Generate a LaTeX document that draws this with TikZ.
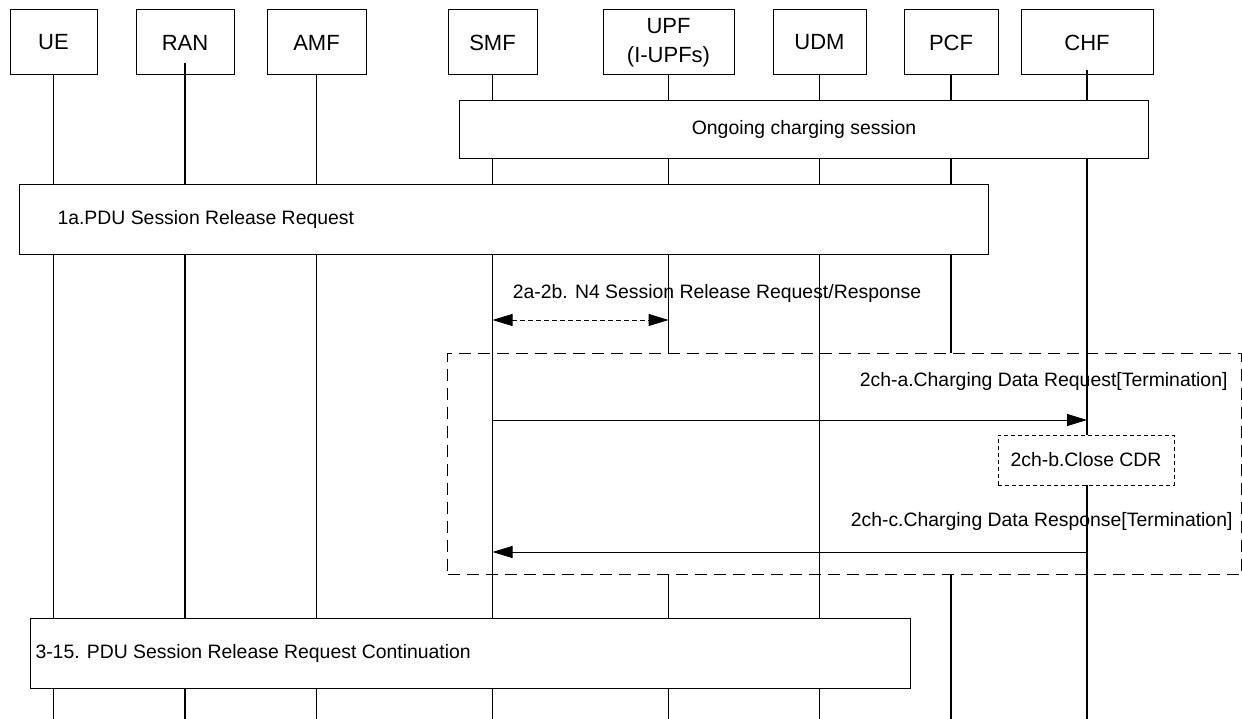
\documentclass[tikz,border=0pt]{standalone}
\usepackage{fontspec}
\setmainfont{Liberation Sans}
\usetikzlibrary{arrows.meta}
\begin{document}
\begin{tikzpicture}[x=1pt,y=-1pt,line width=1pt,
  hdr/.style={draw,fill=white,minimum height=65pt,inner sep=0pt,align=center,font=\fontsize{22}{29}\selectfont},
  lbl/.style={inner sep=0pt,font=\fontsize{19.4}{23}\selectfont},
  actbox/.style={draw,fill=white,anchor=north west,inner sep=0pt},
  life/.style={line width=1.2pt},
  msg/.style={-{Triangle[length=20pt,width=12pt]}},
  dmsg/.style={{Triangle[length=20pt,width=12pt]}-{Triangle[length=20pt,width=12pt]},dash pattern=on 5pt off 3pt},
  bigdash/.style={draw,dash pattern=on 12pt off 7pt,anchor=north west,inner sep=0pt},
  smalldash/.style={draw,fill=white,dash pattern=on 4pt off 3pt,inner sep=0pt}]
\useasboundingbox (0,0) rectangle (1242,719);
\coordinate (bottom) at (0,719);
% headers
\node[hdr,minimum width=87pt]  (ue)  at (53.5,42.5) {UE};
\node[hdr,minimum width=98pt]  (ran) at (185,42.5) {RAN};
\node[hdr,minimum width=99pt]  (amf) at (316.5,42.5) {AMF};
\node[hdr,minimum width=89pt]  (smf) at (492.5,42.5) {SMF};
\node[hdr,minimum width=131pt] (upf) at (668.5,42.5) {UPF\\(I-UPFs)};
\node[hdr,minimum width=93pt]  (udm) at (819.5,42.5) {UDM};
\node[hdr,minimum width=94pt]  (pcf) at (951,42.5) {PCF};
\node[hdr,minimum width=132pt] (chf) at (1087,42.5) {CHF};
% dashed frame (not filled)
\node[bigdash,minimum width=794pt,minimum height=221pt] (dbox) at (447,353) {};
% lifelines
\draw[life] (ue.south) -- (ue.south |- bottom);
\draw[life] ([yshift=12pt]ran.south) -- (ran.south |- bottom);
\draw[life] (amf.south) -- (amf.south |- bottom);
\draw[life] (smf.south) -- (smf.south |- bottom);
\draw[life] (upf.south) -- (upf.south |- dbox.north);
\draw[life] (upf.south |- dbox.south) -- (upf.south |- bottom);
\draw[life] (udm.south) -- (udm.south |- bottom);
\draw[life] (pcf.south) -- (pcf.south |- dbox.north);
\draw[life] (pcf.south |- dbox.south) -- (pcf.south |- bottom);
\draw[life] ([yshift=5pt]chf.south) -- (chf.south |- bottom);
% activity boxes
\node[actbox,minimum width=689pt,minimum height=58pt] (ong) at (459,100) {};
\node[lbl] (tong) at (ong.center) {Ongoing charging session};
\node[actbox,minimum width=969pt,minimum height=70pt] (b1a) at (19,184) {};
\node[lbl,anchor=west] (t1a) at (57,219) {1a.PDU Session Release Request};
\node[actbox,minimum width=880pt,minimum height=70pt] (b315) at (30,618) {};
\node[lbl,anchor=west] (t315) at (35,653) {3-15. PDU Session Release Request Continuation};
\node[smalldash,minimum width=176pt,minimum height=50pt] (cdr) at (1086,460) {};
\node[lbl] (tcdr) at (cdr.center) {2ch-b.Close CDR};
% messages
\coordinate (smfN4) at (smf.south |- 0,320);
\coordinate (upfN4) at (upf.south |- 0,320);
\draw[dmsg] (smfN4) -- (upfN4);
\node[lbl] (tN4) at (717,293) {2a-2b. N4 Session Release Request/Response};
\coordinate (smfA) at (smf.south |- 0,420);
\coordinate (chfA) at (chf.south |- 0,420);
\draw[msg] (smfA) -- (chfA);
\node[lbl,anchor=east] (tA) at (1228,381) {2ch-a.Charging Data Request[Termination]};
\coordinate (chfC) at (chf.south |- 0,552);
\coordinate (smfC) at (smf.south |- 0,552);
\draw[msg] (chfC) -- (smfC);
\node[lbl,anchor=east] (tC) at (1233,521) {2ch-c.Charging Data Response[Termination]};
\end{tikzpicture}
\end{document}
